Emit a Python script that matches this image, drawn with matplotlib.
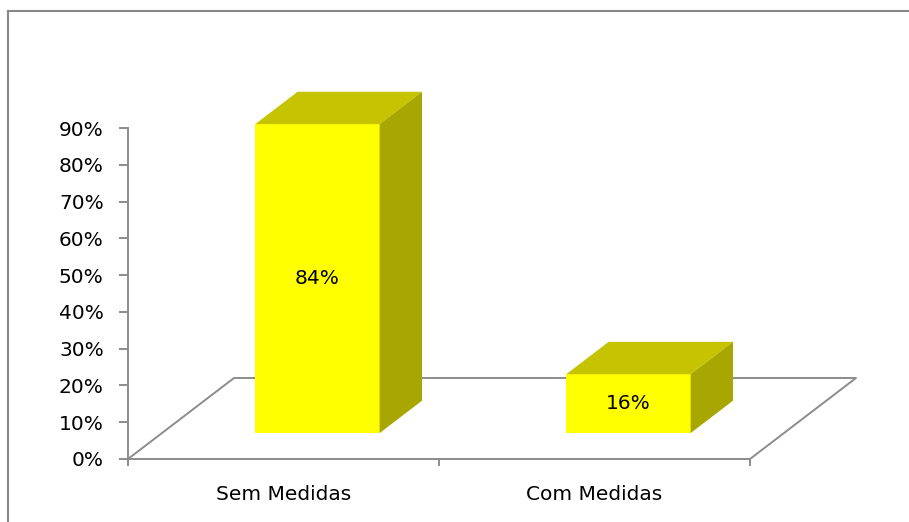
import matplotlib
matplotlib.use("Agg")
import matplotlib.pyplot as plt
from matplotlib.patches import Polygon
from matplotlib.lines import Line2D

categories = ["Sem Medidas", "Com Medidas"]
values = [84, 16]
value_labels = ["84%", "16%"]
y_ticks = [0, 10, 20, 30, 40, 50, 60, 70, 80, 90]

plt.rcParams['font.family'] = ['DejaVu Sans']

W, H = 909, 522
fig = plt.figure(figsize=(W / 100, H / 100), dpi=100)

# plot area in pixels: x 128..750, y(0%)=459, y(90%)=128
x0, x1, ytop, ybot = 128, 750, 128, 459
ax = fig.add_axes([x0 / W, 1 - ybot / H, (x1 - x0) / W, (ybot - ytop) / H])
ax.set_xlim(0, len(categories))
ax.set_ylim(0, 90)

px_x = (x1 - x0) / len(categories)   # pixels per category
px_y = (ybot - ytop) / 90            # pixels per percent


def depth(d):
    # oblique projection offset for depth fraction d
    return 106 * d / px_x, 81 * d / px_y


grey = "#8c8c8c"
fs = 14.5

# floor
fdx, fdy = depth(1.0)
ax.plot([0, fdx, len(categories) + fdx, len(categories)], [0, fdy, fdy, 0],
        color=grey, lw=1.4, clip_on=False, zorder=1)

# bars
bw = 0.4
d_front, d_back = 0.32, 0.72
ox, oy = depth(d_front)
bx, by = depth(d_back)
sx, sy = bx - ox, by - oy
xs = [i + 0.5 - bw / 2 + ox for i in range(len(categories))]
ax.bar(xs, values, width=bw, bottom=oy, align='edge', color="#ffff00",
       edgecolor='none', zorder=3, clip_on=False)
for x, v, lab in zip(xs, values, value_labels):
    top = oy + v
    ax.add_patch(Polygon([(x, top), (x + bw, top), (x + bw + sx, top + sy), (x + sx, top + sy)],
                         closed=True, facecolor="#c6c300", edgecolor='none', zorder=3, clip_on=False))
    ax.add_patch(Polygon([(x + bw, oy), (x + bw + sx, oy + sy), (x + bw + sx, top + sy), (x + bw, top)],
                         closed=True, facecolor="#a8a600", edgecolor='none', zorder=3, clip_on=False))
    ax.text(x + bw / 2, oy + v / 2, lab, ha='center', va='center', fontsize=fs, zorder=4)

# axes styling
for s in ['top', 'right']:
    ax.spines[s].set_visible(False)
for s in ['left', 'bottom']:
    ax.spines[s].set_color(grey)
    ax.spines[s].set_linewidth(1.4)
ax.set_yticks(y_ticks)
ax.set_yticklabels([f"{t}%" for t in y_ticks], fontsize=fs)
ax.tick_params(axis='y', length=6.5, color=grey, width=1.4, pad=11)
ax.set_xticks(range(len(categories) + 1))
ax.set_xticklabels([])
ax.tick_params(axis='x', which='major', length=5, color=grey, width=1.4)
ax.set_xticks([i + 0.5 for i in range(len(categories))], minor=True)
ax.set_xticklabels(categories, minor=True, fontsize=fs)
ax.tick_params(axis='x', which='minor', length=0, pad=18.5)
ax.patch.set_visible(False)

# outer chart border (top and left)
fig.add_artist(Line2D([8 / W, 8 / W], [0, 1 - 11 / H], color="#888888", lw=1.5))
fig.add_artist(Line2D([8 / W, 1], [1 - 11 / H, 1 - 11 / H], color="#888888", lw=1.5))

fig.savefig("out.png", dpi=100)
